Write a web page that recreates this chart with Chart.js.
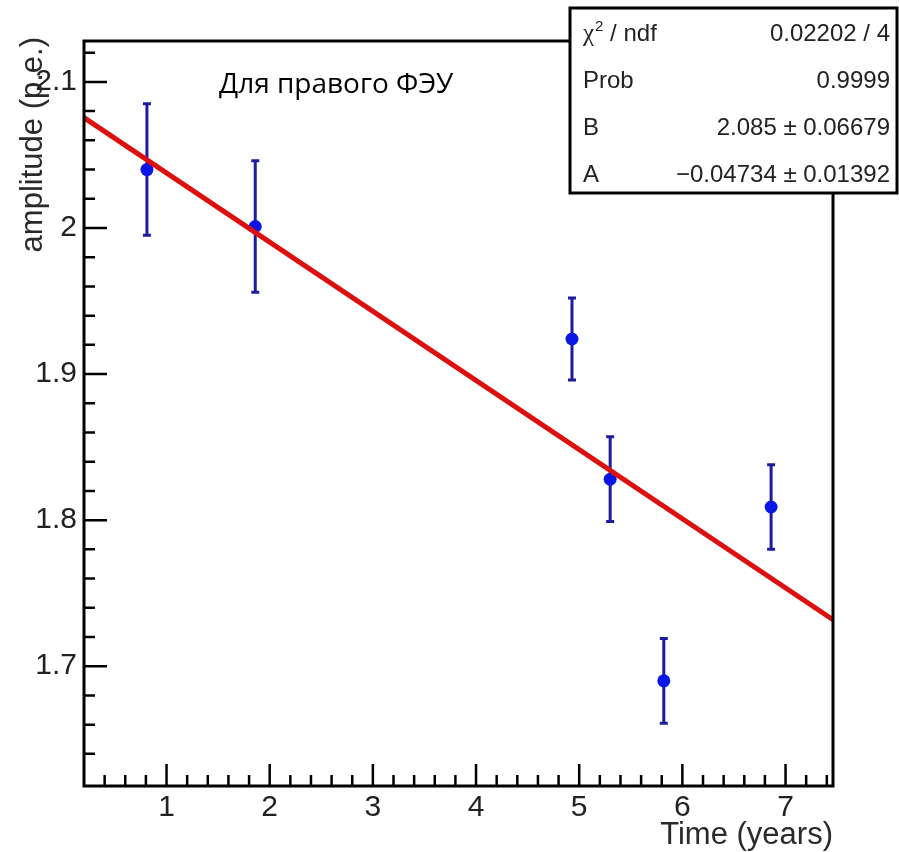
<!DOCTYPE html>
<html>
<head>
<meta charset="utf-8">
<script src="https://cdn.jsdelivr.net/npm/chart.js@4.4.1/dist/chart.umd.min.js"></script>
<style>
html,body{margin:0;padding:0;background:#fff}
canvas{display:block}
</style>
</head>
<body>
<canvas id="ampChart" width="899" height="852"></canvas>
<script>
// measured amplitude vs. time, with fit y = B + A*x
const timeYears=[0.81,1.86,4.93,5.30,5.82,6.86];
const amplitude=[2.040,2.001,1.924,1.828,1.690,1.809];
const amplitudeErr=[0.045,0.045,0.028,0.029,0.029,0.029];
const xTicks=[1,2,3,4,5,6,7];
const yTicks=[1.7,1.8,1.9,2.0,2.1];
const xRange=[0.2,7.46];
const yRange=[1.618,2.128];
const fitB=2.085;
const fitA=-0.04734;
const statNames=['χ² / ndf','Prob','B','A'];
const statValues=['0.02202 / 4','0.9999','2.085 ± 0.06679','−0.04734 ± 0.01392'];
const panelLabel='Для правого ФЭУ';

const AX_FONT='"Liberation Sans", Arial, Helvetica, sans-serif';

const fitLine=xRange.map(x=>({x,y:fitB+fitA*x}));
const points=timeYears.map((x,i)=>({x,y:amplitude[i]}));

// stat names: "χ²" gets a serif chi with a raised 2
function drawStatName(ctx,name,x,y){
  if(!name.startsWith('χ²')){ctx.fillText(name,x,y);return;}
  ctx.font='25px "Liberation Serif", serif';
  ctx.fillText('χ',x,y);
  let cx=x+ctx.measureText('χ').width+1;
  ctx.font='15px '+AX_FONT;
  ctx.fillText('2',cx,y-10);
  cx+=ctx.measureText('2').width;
  ctx.font='24px '+AX_FONT;
  ctx.fillText(name.slice(2),cx,y);
}

// ROOT-like frame: error bars under markers, inward ticks, stats box
const rootFrame={
  id:'rootFrame',
  beforeDatasetsDraw(chart){
    const {ctx,scales:{x,y}}=chart;
    ctx.save();
    ctx.strokeStyle='#1c1c9c';
    ctx.lineWidth=3;
    timeYears.forEach((t,i)=>{
      const px=x.getPixelForValue(t);
      const top=y.getPixelForValue(amplitude[i]+amplitudeErr[i]);
      const bot=y.getPixelForValue(amplitude[i]-amplitudeErr[i]);
      ctx.beginPath();
      ctx.moveTo(px,top);ctx.lineTo(px,bot);
      ctx.moveTo(px-4,top);ctx.lineTo(px+4,top);
      ctx.moveTo(px-4,bot);ctx.lineTo(px+4,bot);
      ctx.stroke();
    });
    ctx.restore();
  },
  afterDatasetsDraw(chart){
    const {ctx,chartArea:a,scales:{x,y}}=chart;
    ctx.save();
    ctx.strokeStyle='#000';
    ctx.lineWidth=3;
    ctx.strokeRect(a.left,a.top,a.right-a.left,a.bottom-a.top);

    ctx.lineWidth=2.5;
    ctx.beginPath();
    // x ticks every 0.2, major on integers
    for(let k=Math.ceil(xRange[0]*5);k<=Math.floor(xRange[1]*5);k++){
      const px=x.getPixelForValue(k/5);
      if(px<=a.left+1||px>=a.right-1) continue;
      const len=k%5===0?22:11;
      ctx.moveTo(px,a.bottom);ctx.lineTo(px,a.bottom-len);
    }
    // y ticks every 0.02, major every 0.1
    for(let k=Math.ceil(yRange[0]*50);k<=Math.floor(yRange[1]*50);k++){
      const py=y.getPixelForValue(k/50);
      if(py>=a.bottom-4||py<=a.top+1) continue;
      const len=k%5===0?23:11;
      ctx.moveTo(a.left,py);ctx.lineTo(a.left+len,py);
    }
    ctx.stroke();

    // axis titles
    ctx.fillStyle='#2a2a2a';
    ctx.font='31px '+AX_FONT;
    ctx.textAlign='right';
    ctx.textBaseline='alphabetic';
    ctx.fillText('Time (years)',a.right,844);
    ctx.save();
    ctx.translate(42,a.top-4);
    ctx.rotate(-Math.PI/2);
    ctx.fillText('amplitude (p.e.)',0,0);
    ctx.restore();

    // panel label
    ctx.fillStyle='#000';
    ctx.font='28px "Open Sans", "Noto Sans", sans-serif';
    ctx.textAlign='left';
    ctx.fillText(panelLabel,219,93);

    // stats box
    const bx=570,by=8,bw=327,bh=185;
    ctx.fillStyle='#fff';
    ctx.fillRect(bx,by,bw,bh);
    ctx.lineWidth=3;
    ctx.strokeRect(bx,by,bw,bh);
    ctx.fillStyle='#222';
    statNames.forEach((n,i)=>{
      const base=by+33+i*47;
      ctx.font='24px '+AX_FONT;
      ctx.textAlign='left';
      drawStatName(ctx,n,583,base);
      ctx.font='24px '+AX_FONT;
      ctx.textAlign='right';
      ctx.fillText(statValues[i],890,base);
    });
    ctx.restore();
  }
};

new Chart(document.getElementById('ampChart'),{
  type:'scatter',
  data:{datasets:[
    {type:'line',label:'fit',data:fitLine,borderColor:'#dd1010',borderWidth:5,pointRadius:0,fill:false,tension:0},
    {label:'amplitude',data:points,backgroundColor:'#0a16e6',borderColor:'#0a16e6',pointRadius:6.5,pointHoverRadius:6.5,borderWidth:0}
  ]},
  options:{
    responsive:false,
    animation:false,
    layout:{padding:{top:41,right:66,left:0,bottom:0}},
    plugins:{legend:{display:false},tooltip:{enabled:false}},
    scales:{
      x:{type:'linear',min:xRange[0],max:xRange[1],
        afterBuildTicks:s=>{s.ticks=xTicks.map(v=>({value:v}));},
        afterFit:s=>{s.height=66;},
        grid:{display:false,drawTicks:false},border:{display:false},
        ticks:{padding:4,color:'#222',font:{family:AX_FONT,size:30},maxRotation:0,callback:v=>String(v)}},
      y:{type:'linear',min:yRange[0],max:yRange[1],
        afterBuildTicks:s=>{s.ticks=yTicks.map(v=>({value:v}));},
        afterFit:s=>{s.width=84;},
        grid:{display:false,drawTicks:false},border:{display:false},
        ticks:{padding:7,color:'#222',font:{family:AX_FONT,size:30},callback:v=>String(Math.round(v*10)/10)}}
    }
  },
  plugins:[rootFrame]
});
</script>
</body>
</html>
